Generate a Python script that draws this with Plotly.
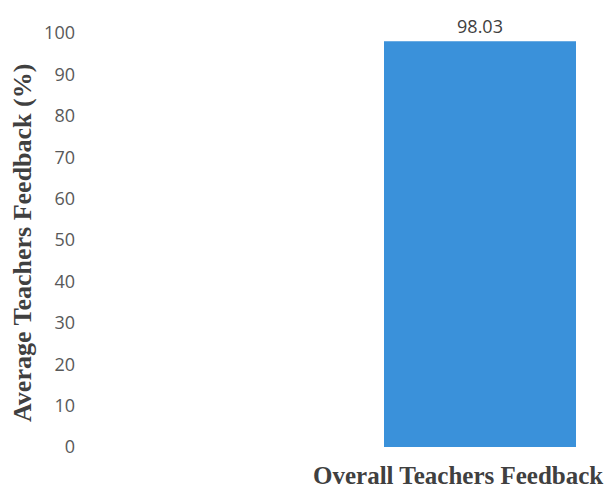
import plotly.graph_objects as go

categories = ["Overall Teachers Feedback"]
values = [98.03]
value_labels = ["98.03"]
y_ticks = [0, 10, 20, 30, 40, 50, 60, 70, 80, 90, 100]

# page body has an 8px margin; layout numbers below compensate for it
L, T, R, B = 76, 25, 8, 51
PW, PH = 612 - L - R, 490 - T - B

fig = go.Figure()
fig.add_trace(go.Bar(
    x=[0], y=values, width=[1],
    marker=dict(color="#3a91da", line=dict(width=0)),
    text=value_labels, textposition="outside",
    textfont=dict(family="Open Sans", size=18, color="#404040"),
    cliponaxis=False,
))

fig.update_layout(
    width=612, height=490,
    margin=dict(l=L, r=R, t=T, b=B),
    plot_bgcolor="white", paper_bgcolor="white",
    showlegend=False,
    xaxis=dict(range=[-2.0625, 0.6875], showticklabels=False, showgrid=False,
               zeroline=False, showline=False, ticks=""),
    yaxis=dict(range=[0, 100], tickvals=y_ticks, showgrid=False, zeroline=False,
               showline=False, ticks="", ticklabelstandoff=8,
               tickfont=dict(family="Open Sans", size=18, color="#595959")),
    annotations=[
        dict(text="<b>" + categories[0] + "</b>", xref="paper", yref="paper",
             x=(450 - L) / PW, y=(T + PH - 467) / PH, xanchor="center", yanchor="middle",
             showarrow=False, font=dict(family="Liberation Serif", size=25, color="#404040")),
        dict(text="<b>Average Teachers Feedback (%)</b>", xref="paper", yref="paper",
             x=(14 - L) / PW, y=(T + PH - 235) / PH, xanchor="center", yanchor="middle",
             textangle=-90, showarrow=False,
             font=dict(family="Liberation Serif", size=26, color="#404040")),
    ],
)

fig.write_html("out.html")
